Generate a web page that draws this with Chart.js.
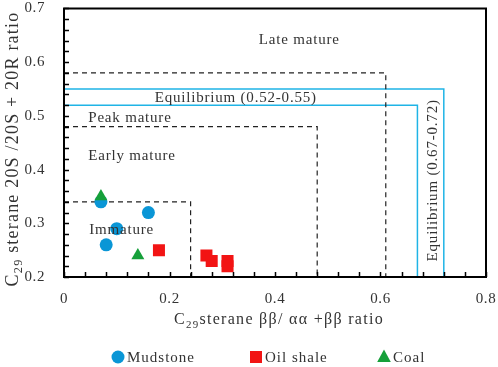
<!DOCTYPE html>
<html lang="en">
<head>
  <meta charset="UTF-8">
  <title>C29 sterane maturity</title>
  <script src="https://cdn.jsdelivr.net/npm/chart.js"></script>
  <style>
    body { margin: 0; background: #fff; }
    #box { width: 498px; height: 367px; }
  </style>
</head>
<body>
<div id="box"><canvas id="grafico"></canvas></div>
<script>
// dados
const mudstoneX = [0.07, 0.16, 0.10, 0.08];
const mudstoneY = [0.34, 0.32, 0.29, 0.26];
const oilShaleX = [0.18, 0.27, 0.28, 0.31, 0.31];
const oilShaleY = [0.25, 0.24, 0.23, 0.23, 0.22];
const coalX = [0.07, 0.14];
const coalY = [0.35, 0.24];

// limites das zonas de maturidade
const imaturoX = [0, 0.24, 0.24];
const imaturoY = [0.34, 0.34, 0.2];
const picoX = [0, 0.48, 0.48];
const picoY = [0.48, 0.48, 0.2];
const tardioX = [0, 0.61, 0.61];
const tardioY = [0.58, 0.58, 0.2];
const equil1X = [0, 0.67, 0.67];
const equil1Y = [0.52, 0.52, 0.2];
const equil2X = [0, 0.72, 0.72];
const equil2Y = [0.55, 0.55, 0.2];

// textos dentro do grafico
const textos = [
  { t: 'Late mature', x: 0.446, y: 0.642, align: 'center', rot: 0 },
  { t: 'Equilibrium (0.52-0.55)', x: 0.172, y: 0.534, align: 'left', rot: 0 },
  { t: 'Peak mature', x: 0.046, y: 0.496, align: 'left', rot: 0 },
  { t: 'Early mature', x: 0.046, y: 0.425, align: 'left', rot: 0 },
  { t: 'Immature', x: 0.048, y: 0.287, align: 'left', rot: 0 },
  { t: 'Equilibrium (0.67-0.72)', x: 0.70, y: 0.38, align: 'center', rot: -Math.PI / 2 }
];

const tituloX = [['C', 0], ['29', 1], ['sterane ββ/ αα +ββ ratio', 0]];
const tituloY = [['C', 0], ['29', 1], [' sterane 20S /20S + 20R ratio', 0]];

const legendaNomes = ['Mudstone', 'Oil shale', 'Coal'];
const legendaCores = ['#0a96d6', '#f21414', '#16a03a'];

const fonte = '"Liberation Serif", "Times New Roman", serif';
const corTexto = '#333';

function pares(xs, ys) {
  return xs.map((x, i) => ({ x: x, y: ys[i] }));
}

function linha(xs, ys, cor, tracejado) {
  return {
    type: 'line', label: '', data: pares(xs, ys), borderColor: cor,
    borderWidth: tracejado ? 1.2 : 1.5, borderDash: tracejado ? [5, 4] : [],
    pointRadius: 0, fill: false, tension: 0, showLine: true, order: 5
  };
}

// texto com subscrito, centrado em (0,0)
function textoRico(ctx, partes, tam) {
  let larg = 0;
  partes.forEach(p => {
    ctx.font = (p[1] ? tam * 0.68 : tam) + 'px ' + fonte;
    larg += ctx.measureText(p[0]).width;
  });
  let x = -larg / 2;
  ctx.textAlign = 'left';
  ctx.textBaseline = 'middle';
  partes.forEach(p => {
    ctx.font = (p[1] ? tam * 0.68 : tam) + 'px ' + fonte;
    ctx.fillText(p[0], x, p[1] ? tam * 0.3 : 0);
    x += ctx.measureText(p[0]).width;
  });
}

function marcador(ctx, tipo, x, y, cor) {
  ctx.fillStyle = cor;
  ctx.beginPath();
  if (tipo === 0) {
    ctx.arc(x, y, 6.5, 0, Math.PI * 2);
  } else if (tipo === 1) {
    ctx.rect(x - 6, y - 6, 12, 12);
  } else {
    ctx.moveTo(x, y - 7.5);
    ctx.lineTo(x + 6.8, y + 5);
    ctx.lineTo(x - 6.8, y + 5);
    ctx.closePath();
  }
  ctx.fill();
}

const molduraETicks = {
  id: 'molduraETicks',
  beforeDraw(chart) {
    chart.ctx.letterSpacing = '0.6px';
  },
  afterDraw(chart) {
    const ctx = chart.ctx;
    const a = chart.chartArea;
    const sx = chart.scales.x, sy = chart.scales.y;
    ctx.save();
    ctx.strokeStyle = '#000';
    ctx.lineWidth = 2;
    ctx.strokeRect(a.left, a.top, a.right - a.left, a.bottom - a.top);
    ctx.lineWidth = 1.5;
    ctx.beginPath();
    for (let v = 0; v <= 0.8001; v += 0.04) {
      const px = Math.round(sx.getPixelForValue(v)) + 0.5;
      ctx.moveTo(px, a.bottom); ctx.lineTo(px, a.bottom - 5);
    }
    for (let v = 0.2; v <= 0.7001; v += 0.02) {
      const py = Math.round(sy.getPixelForValue(v)) + 0.5;
      ctx.moveTo(a.left, py); ctx.lineTo(a.left + 5, py);
    }
    ctx.stroke();

    ctx.fillStyle = corTexto;
    ctx.font = '15px ' + fonte;
    ctx.letterSpacing = '0.8px';
    ctx.textBaseline = 'middle';
    textos.forEach(o => {
      ctx.save();
      ctx.translate(sx.getPixelForValue(o.x), sy.getPixelForValue(o.y));
      ctx.rotate(o.rot);
      ctx.textAlign = o.align;
      ctx.fillText(o.t, 0, 0);
      ctx.restore();
    });

    // titulos dos eixos
    ctx.letterSpacing = '1.3px';
    ctx.save();
    ctx.translate(279, 320);
    textoRico(ctx, tituloX, 16);
    ctx.restore();
    ctx.letterSpacing = '1.2px';
    ctx.save();
    ctx.translate(13, 149);
    ctx.rotate(-Math.PI / 2);
    textoRico(ctx, tituloY, 18);
    ctx.restore();

    // legenda
    const posMarc = [118, 256, 384];
    ctx.letterSpacing = '1px';
    ctx.font = '15px ' + fonte;
    ctx.textAlign = 'left';
    ctx.textBaseline = 'middle';
    legendaNomes.forEach((nome, i) => {
      marcador(ctx, i, posMarc[i], 357, legendaCores[i]);
      ctx.fillStyle = corTexto;
      ctx.fillText(nome, posMarc[i] + 9, 358);
    });
    ctx.restore();
  }
};

new Chart(document.getElementById('grafico'), {
  type: 'scatter',
  data: {
    datasets: [
      linha(imaturoX, imaturoY, '#222', true),
      linha(picoX, picoY, '#222', true),
      linha(tardioX, tardioY, '#222', true),
      linha(equil1X, equil1Y, '#1fb4e6', false),
      linha(equil2X, equil2Y, '#1fb4e6', false),
      {
        label: 'Mudstone', data: pares(mudstoneX, mudstoneY), pointStyle: 'circle',
        pointRadius: 6.5, backgroundColor: legendaCores[0], borderWidth: 0, order: 3
      },
      {
        label: 'Oil shale', data: pares(oilShaleX, oilShaleY), pointStyle: 'rect',
        pointRadius: 8.5, backgroundColor: legendaCores[1], borderWidth: 0, order: 2
      },
      {
        label: 'Coal', data: pares(coalX, coalY), pointStyle: 'triangle',
        pointRadius: 7.5, backgroundColor: legendaCores[2], borderWidth: 0, order: 1
      }
    ]
  },
  options: {
    responsive: true,
    maintainAspectRatio: false,
    animation: false,
    layout: { padding: { top: 6, right: 12, bottom: 45, left: 0 } },
    plugins: {
      tooltip: { enabled: false },
      legend: { display: false }
    },
    scales: {
      x: {
        type: 'linear', min: 0, max: 0.8,
        grid: { display: false },
        border: { display: false },
        afterFit: s => { s.height = 45; s.paddingLeft = 0; s.paddingRight = 0; },
        ticks: {
          stepSize: 0.2, padding: 5, color: corTexto,
          font: { family: fonte, size: 15 },
          callback: v => (Math.abs(v) < 1e-9 ? '0' : v.toFixed(1))
        }
      },
      y: {
        type: 'linear', min: 0.2, max: 0.7,
        grid: { display: false },
        border: { display: false },
        afterFit: s => { s.width = 64; s.paddingTop = 0; s.paddingBottom = 0; },
        ticks: {
          stepSize: 0.1, padding: 11, color: corTexto,
          font: { family: fonte, size: 15 },
          callback: v => v.toFixed(1)
        }
      }
    }
  },
  plugins: [molduraETicks]
});
</script>
</body>
</html>
